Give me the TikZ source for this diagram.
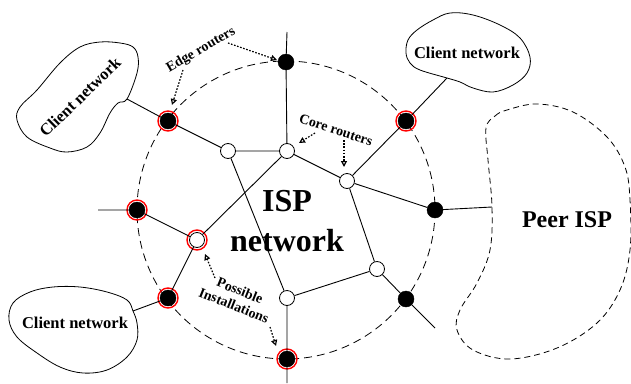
\documentclass[tikz,border=0pt]{standalone}
\usepackage{fontspec}
\setmainfont{Liberation Serif}
\usetikzlibrary{arrows.meta,calc}
\tikzset{
  font=\bfseries,
  link/.style={line width=0.9pt},
  edgeR/.style={circle,fill=black,draw=black,minimum size=16pt,inner sep=0pt},
  coreR/.style={circle,fill=white,draw=black,line width=0.8pt,minimum size=15pt,inner sep=0pt},
  ring/.style={circle,draw=red,line width=1.4pt,minimum size=20pt,inner sep=0pt},
  cloud/.style={line width=0.8pt},
  peer/.style={line width=0.8pt,dash pattern=on 6pt off 4pt},
  border/.style={line width=0.8pt,dash pattern=on 8pt off 5pt},
  ptr/.style={-{Triangle[open,length=6pt,width=6pt]},line width=1.2pt,dash pattern=on 1.6pt off 1.6pt},
  lbl/.style={font=\fontsize{14}{16}\selectfont\bfseries,align=center,inner sep=0pt},
  cname/.style={font=\fontsize{16.5}{18}\selectfont\bfseries,inner sep=0pt},
}
\begin{document}
\begin{tikzpicture}[x=1pt,y=-1pt]
\useasboundingbox (0,0) rectangle (631,383);

% ============ ISP border ============
\coordinate (ctr) at (286,210);
\draw[border] (ctr) circle (149);

% ============ clouds ============
\draw[cloud] plot[smooth cycle,tension=0.6] coordinates {(127,99) (137,73) (138,57) (133,47) (120,43) (100,42) (80,47) (60,63) (37,90) (20,107) (17,120) (27,137) (50,148) (67,152) (87,147) (100,133) (110,113) (118,103)};
\draw[cloud] plot[smooth cycle,tension=0.6] coordinates {(447,78) (420,70) (410,63) (406,53) (408,40) (417,30) (433,20) (450,13) (473,15) (500,25) (520,38) (530,57) (527,73) (513,85) (493,92) (473,88) (460,82)};
\draw[cloud] plot[smooth cycle,tension=0.6] coordinates {(133,311) (137,323) (137,340) (127,357) (107,370) (83,373) (60,367) (37,353) (17,337) (9,320) (13,303) (30,292) (53,287) (80,287) (107,292) (127,300)};
\draw[peer] plot[smooth cycle,tension=0.6] coordinates {(486,128) (495,116) (507,110) (537,104) (573,112) (607,137) (625,167) (630,200) (630,250) (620,290) (597,323) (557,348) (510,359) (473,350) (457,330) (460,310) (477,283) (490,250) (492,207) (488,160)};

\node[cname, rotate=44] (cnA) at (80,97) {Client network};
\node[cname] (cnB) at (467,53) {Client network};
\node[cname] (cnC) at (75,323) {Client network};
\node[font=\fontsize{24}{28}\selectfont\bfseries] (pisp) at (567,220) {Peer ISP};
\node[font=\fontsize{32}{40}\selectfont\bfseries,align=center,inner sep=0pt] (isp) at (287,221) {ISP\\network};

% ============ routers ============
\node[edgeR] (er1) at (168,121) {};
\node[edgeR] (er2) at (286,62) {};
\node[edgeR] (er3) at (406,121) {};
\node[edgeR] (er4) at (137,210) {};
\node[edgeR] (er5) at (435,210) {};
\node[edgeR] (er6) at (168,298) {};
\node[edgeR] (er7) at (406,299) {};
\node[edgeR] (er8) at (287,359) {};
\node[coreR] (cr1) at (228,151) {};
\node[coreR] (cr2) at (287,151) {};
\node[coreR] (cr3) at (347,181) {};
\node[coreR] (cr4) at (377,269) {};
\node[coreR] (cr5) at (287,298) {};
\node[coreR] (pi) at (197,240) {};
\foreach \r in {er1,er3,er4,er6,er8,pi}
  \node[ring] (\r-ring) at (\r) {};

% free ends
\coordinate (cA) at (127,99);
\coordinate (cB) at (447,78);
\coordinate (cC) at (133,311);
\coordinate (pE) at (492,207);
\coordinate (up) at (287,32);
\coordinate (lt) at (98,210);
\coordinate (dr) at (435,328);
\coordinate (dn) at (287,383);

% ---------- links ----------
\draw[link] (cA) -- (er1) -- (cr1) -- (cr2) -- (er2) -- (up);
\draw[link] (cr1) -- (cr5) -- (er8) -- (dn);
\draw[link] (cr2) -- (pi) -- (er6) -- (cC);
\draw[link] (lt) -- (er4) -- (pi);
\draw[link] (cr2) -- (cr3) -- (er3) -- (cB);
\draw[link] (cr3) -- (cr4) -- (er7) -- (dr);
\draw[link] (cr3) -- (er5) -- (pE);
\draw[link] (cr4) -- (cr5);

% ---------- labels + pointers ----------
\node[lbl, rotate=30] (lEdge) at (201,50) {Edge routers};
\node[lbl, rotate=-18] (lCore) at (336,130) {Core routers};
\node[lbl, rotate=-22] (lInst) at (237,298) {Possible\\Installations};

\coordinate (e1) at (228,43);  \coordinate (e1t) at (277,60);
\coordinate (e2) at (183,70);  \coordinate (e2t) at (172,105);
\coordinate (c1) at (315,133); \coordinate (c1t) at (299,143);
\coordinate (c2) at (344,140); \coordinate (c2t) at (344,167);
\coordinate (p1) at (215,278); \coordinate (p1t) at (205,254);
\coordinate (p2) at (270,327); \coordinate (p2t) at (276,346);
\draw[ptr] (e1) -- (e1t);
\draw[ptr] (e2) -- (e2t);
\draw[ptr] (c1) -- (c1t);
\draw[ptr] (c2) -- (c2t);
\draw[ptr] (p1) -- (p1t);
\draw[ptr] (p2) -- (p2t);

\end{tikzpicture}
\end{document}
